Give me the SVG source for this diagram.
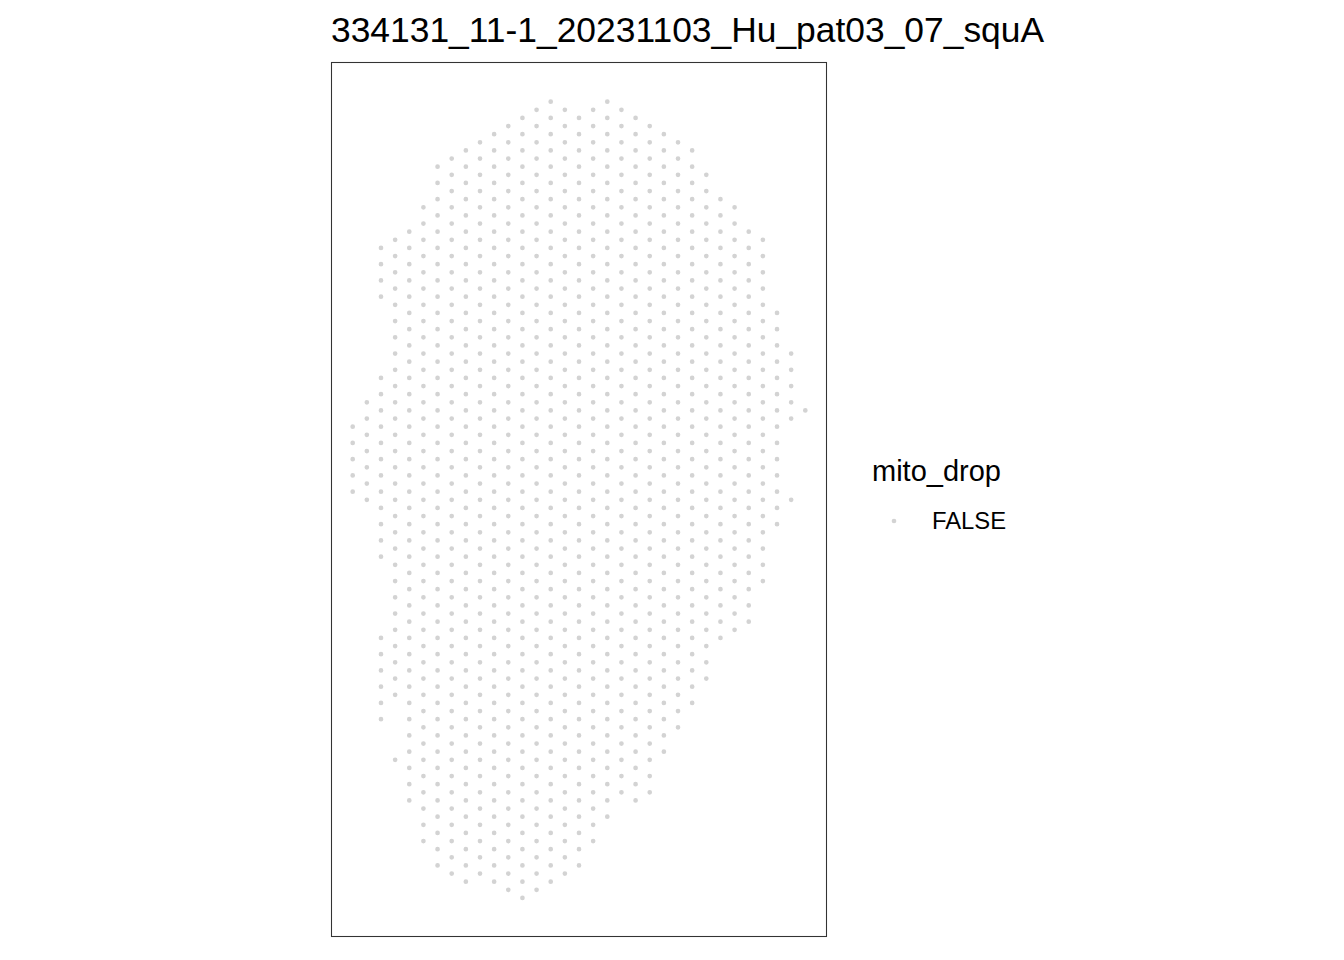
<svg xmlns="http://www.w3.org/2000/svg" width="1344" height="960" viewBox="0 0 1344 960">
<style>
.row{fill:none;stroke:#D3D3D3;stroke-width:4.7;stroke-linecap:round;stroke-dasharray:0 28.288}
.dot{fill:#D3D3D3}
.t{font-family:"Liberation Sans",Arial,sans-serif;fill:#000}
</style>
<rect width="1344" height="960" fill="#fff"/>
<g id="title"><text class="t" x="331" y="42" font-size="35.4">334131_11-1_20231103_Hu_pat03_07_squA</text></g>
<g id="panel"><rect x="331.5" y="62.5" width="495" height="874" fill="none" stroke="#333333" stroke-width="1.07"/></g>
<g id="spots">
<circle class="dot" cx="550.72" cy="101.7" r="2.35"/>
<circle class="dot" cx="607.29" cy="101.7" r="2.35"/>
<path class="row" d="M536.57 109.83H621.94"/>
<path class="row" d="M522.43 117.95H636.08"/>
<path class="row" d="M508.28 126.08H650.22"/>
<path class="row" d="M494.14 134.2H664.37"/>
<path class="row" d="M480 142.33H678.51"/>
<path class="row" d="M465.85 150.45H692.66"/>
<path class="row" d="M451.71 158.58H678.51"/>
<path class="row" d="M437.56 166.7H692.66"/>
<path class="row" d="M451.71 174.83H706.8"/>
<path class="row" d="M437.56 182.95H692.66"/>
<path class="row" d="M451.71 191.08H706.8"/>
<path class="row" d="M437.56 199.2H720.94"/>
<path class="row" d="M423.42 207.33H735.09"/>
<path class="row" d="M437.56 215.45H720.94"/>
<path class="row" d="M423.42 223.58H735.09"/>
<path class="row" d="M409.28 231.7H749.23"/>
<path class="row" d="M395.13 239.83H763.38"/>
<path class="row" d="M380.99 247.95H749.23"/>
<path class="row" d="M395.13 256.08H763.38"/>
<path class="row" d="M380.99 264.2H749.23"/>
<path class="row" d="M395.13 272.33H763.38"/>
<path class="row" d="M380.99 280.45H749.23"/>
<path class="row" d="M395.13 288.58H763.38"/>
<path class="row" d="M380.99 296.7H749.23"/>
<path class="row" d="M395.13 304.83H763.38"/>
<path class="row" d="M409.28 312.95H777.52"/>
<path class="row" d="M395.13 321.08H763.38"/>
<path class="row" d="M409.28 329.2H777.52"/>
<path class="row" d="M395.13 337.33H763.38"/>
<path class="row" d="M409.28 345.45H777.52"/>
<path class="row" d="M395.13 353.58H791.66"/>
<path class="row" d="M409.28 361.7H777.52"/>
<path class="row" d="M395.13 369.83H791.66"/>
<path class="row" d="M380.99 377.95H777.52"/>
<path class="row" d="M395.13 386.08H791.66"/>
<path class="row" d="M380.99 394.2H777.52"/>
<path class="row" d="M366.84 402.33H791.66"/>
<path class="row" d="M380.99 410.45H805.81"/>
<path class="row" d="M366.84 418.58H791.66"/>
<path class="row" d="M352.7 426.7H777.52"/>
<path class="row" d="M366.84 434.83H763.38"/>
<path class="row" d="M352.7 442.95H777.52"/>
<path class="row" d="M366.84 451.08H763.38"/>
<path class="row" d="M352.7 459.2H777.52"/>
<path class="row" d="M366.84 467.33H763.38"/>
<path class="row" d="M352.7 475.45H777.52"/>
<path class="row" d="M366.84 483.58H763.38"/>
<path class="row" d="M352.7 491.7H777.52"/>
<path class="row" d="M366.84 499.83H791.66"/>
<path class="row" d="M380.99 507.95H777.52"/>
<path class="row" d="M395.13 516.08H763.38"/>
<path class="row" d="M380.99 524.2H777.52"/>
<path class="row" d="M395.13 532.33H763.38"/>
<path class="row" d="M380.99 540.45H749.23"/>
<path class="row" d="M395.13 548.58H763.38"/>
<path class="row" d="M380.99 556.7H749.23"/>
<path class="row" d="M395.13 564.83H763.38"/>
<path class="row" d="M409.28 572.95H749.23"/>
<path class="row" d="M395.13 581.08H763.38"/>
<path class="row" d="M409.28 589.2H749.23"/>
<path class="row" d="M395.13 597.33H735.09"/>
<path class="row" d="M409.28 605.45H749.23"/>
<path class="row" d="M395.13 613.58H735.09"/>
<path class="row" d="M409.28 621.7H749.23"/>
<path class="row" d="M395.13 629.83H735.09"/>
<path class="row" d="M380.99 637.95H720.94"/>
<path class="row" d="M395.13 646.08H706.8"/>
<path class="row" d="M380.99 654.2H692.66"/>
<path class="row" d="M395.13 662.33H706.8"/>
<path class="row" d="M380.99 670.45H692.66"/>
<path class="row" d="M395.13 678.58H706.8"/>
<path class="row" d="M380.99 686.7H692.66"/>
<path class="row" d="M395.13 694.83H678.51"/>
<path class="row" d="M380.99 702.95H692.66"/>
<path class="row" d="M423.42 711.08H678.51"/>
<path class="row" d="M380.99 719.2H664.37"/>
<path class="row" d="M423.42 727.33H678.51"/>
<path class="row" d="M409.28 735.45H664.37"/>
<path class="row" d="M423.42 743.58H650.22"/>
<path class="row" d="M409.28 751.7H664.37"/>
<path class="row" d="M395.13 759.83H650.22"/>
<path class="row" d="M409.28 767.95H636.08"/>
<path class="row" d="M423.42 776.08H650.22"/>
<path class="row" d="M409.28 784.2H636.08"/>
<path class="row" d="M423.42 792.33H650.22"/>
<path class="row" d="M409.28 800.45H636.08"/>
<path class="row" d="M423.42 808.58H593.65"/>
<path class="row" d="M437.56 816.7H607.79"/>
<path class="row" d="M423.42 824.83H593.65"/>
<path class="row" d="M437.56 832.95H579.5"/>
<path class="row" d="M423.42 841.08H593.65"/>
<path class="row" d="M437.56 849.2H579.5"/>
<path class="row" d="M451.71 857.33H565.36"/>
<path class="row" d="M437.56 865.45H579.5"/>
<path class="row" d="M451.71 873.58H565.36"/>
<path class="row" d="M465.85 881.7H551.22"/>
<path class="row" d="M508.28 889.83H537.07"/>
<circle class="dot" cx="522.43" cy="897.95" r="2.35"/>
</g>
<g id="legend">
<text class="t" x="872" y="481" font-size="29">mito_drop</text>
<circle class="dot" cx="894" cy="521" r="2.35"/>
<text class="t" x="932" y="529" font-size="23.8" fill="#1A1A1A">FALSE</text>
</g>
</svg>
